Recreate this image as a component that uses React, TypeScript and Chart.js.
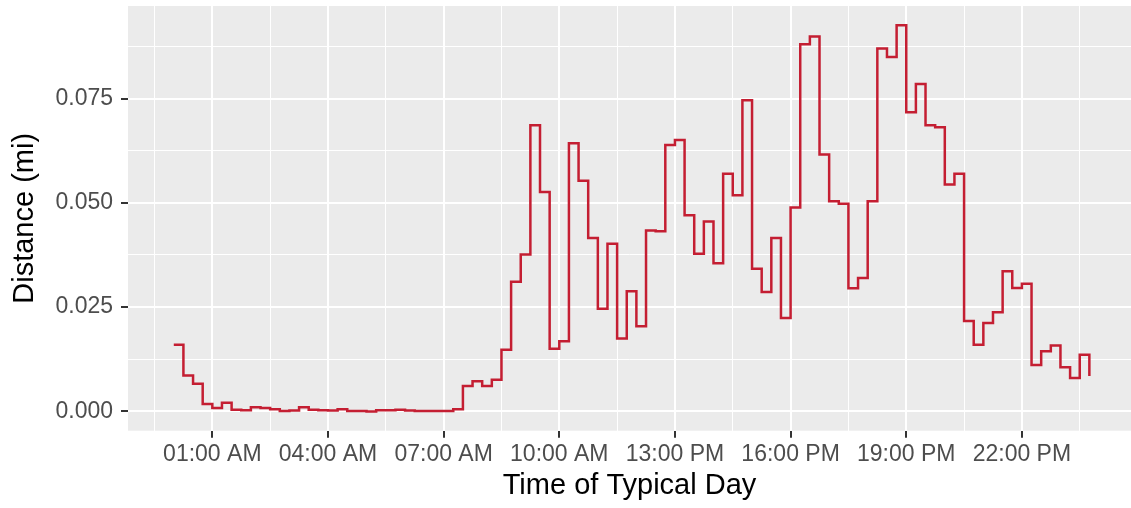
import React, { useEffect, useRef } from "react";
import { Chart, registerables } from "chart.js";

Chart.register(...registerables);

// 15-minute bins of a typical day
const times: string[] = [
  "00:00", "00:15", "00:30", "00:45", "01:00", "01:15", "01:30", "01:45",
  "02:00", "02:15", "02:30", "02:45", "03:00", "03:15", "03:30", "03:45",
  "04:00", "04:15", "04:30", "04:45", "05:00", "05:15", "05:30", "05:45",
  "06:00", "06:15", "06:30", "06:45", "07:00", "07:15", "07:30", "07:45",
  "08:00", "08:15", "08:30", "08:45", "09:00", "09:15", "09:30", "09:45",
  "10:00", "10:15", "10:30", "10:45", "11:00", "11:15", "11:30", "11:45",
  "12:00", "12:15", "12:30", "12:45", "13:00", "13:15", "13:30", "13:45",
  "14:00", "14:15", "14:30", "14:45", "15:00", "15:15", "15:30", "15:45",
  "16:00", "16:15", "16:30", "16:45", "17:00", "17:15", "17:30", "17:45",
  "18:00", "18:15", "18:30", "18:45", "19:00", "19:15", "19:30", "19:45",
  "20:00", "20:15", "20:30", "20:45", "21:00", "21:15", "21:30", "21:45",
  "22:00", "22:15", "22:30", "22:45", "23:00", "23:15", "23:30", "23:45",
];

// Distance (mi)
const distances: number[] = [
  0.0160, 0.0086, 0.0066, 0.0018, 0.0008, 0.0021, 0.0004, 0.0003,
  0.0010, 0.0008, 0.0005, 0.0001, 0.0002, 0.0010, 0.0004, 0.0003,
  0.0002, 0.0005, 0.0001, 0.0001, 0.0000, 0.0003, 0.0003, 0.0004,
  0.0002, 0.0001, 0.0001, 0.0001, 0.0001, 0.0005, 0.0061, 0.0072,
  0.0061, 0.0076, 0.0148, 0.0311, 0.0376, 0.0686, 0.0526, 0.0150,
  0.0168, 0.0643, 0.0553, 0.0416, 0.0246, 0.0402, 0.0175, 0.0288,
  0.0204, 0.0434, 0.0432, 0.0639, 0.0651, 0.0470, 0.0378, 0.0455,
  0.0355, 0.0570, 0.0518, 0.0746, 0.0342, 0.0286, 0.0416, 0.0224,
  0.0489, 0.0880, 0.0899, 0.0616, 0.0504, 0.0498, 0.0295, 0.0320,
  0.0504, 0.0870, 0.0850, 0.0926, 0.0717, 0.0785, 0.0686, 0.0681,
  0.0544, 0.0570, 0.0217, 0.0160, 0.0212, 0.0238, 0.0336, 0.0296,
  0.0306, 0.0111, 0.0144, 0.0158, 0.0106, 0.0080, 0.0136, 0.0085,
];

const xTickHours: number[] = [1, 4, 7, 10, 13, 16, 19, 22];
const xTickLabels: string[] = [
  "01:00 AM", "04:00 AM", "07:00 AM", "10:00 AM",
  "13:00 PM", "16:00 PM", "19:00 PM", "22:00 PM",
];
const xMinorHours: number[] = [-0.5, 2.5, 5.5, 8.5, 11.5, 14.5, 17.5, 20.5, 23.5];

const yTickValues: number[] = [0, 0.025, 0.05, 0.075];
const yTickLabels: string[] = ["0.000", "0.025", "0.050", "0.075"];
const yMinorValues: number[] = [0.0125, 0.0375, 0.0625, 0.0875];

const X_MIN = -1.1875;
const X_MAX = 24.83;
const Y_MIN = -0.00463;
const Y_MAX = 0.0972;

const LINE_COLOR = "#C41E32";
const PANEL_BG = "#EBEBEB";
const FONT = "'Liberation Sans', Arial, Helvetica, sans-serif";

const toHours = (t: string) => {
  const [h, m] = t.split(":").map(Number);
  return h + m / 60;
};

const isMajorX = (v: number) => xTickHours.some((h) => Math.abs(h - v) < 1e-6);
const isMajorY = (v: number) => yTickValues.some((h) => Math.abs(h - v) < 1e-9);

const panelBackground = {
  id: "panelBackground",
  beforeDraw(chart: any) {
    const { ctx, chartArea } = chart;
    ctx.save();
    ctx.fillStyle = PANEL_BG;
    ctx.fillRect(chartArea.left, chartArea.top, chartArea.right - chartArea.left, chartArea.bottom - chartArea.top);
    ctx.restore();
  },
};

export default function App() {
  const canvasRef = useRef<HTMLCanvasElement | null>(null);

  useEffect(() => {
    if (!canvasRef.current) return;
    const points = times.map((t, i) => ({ x: toHours(t), y: distances[i] }));

    const chart = new Chart(canvasRef.current, {
      type: "line",
      data: {
        datasets: [
          {
            data: points,
            borderColor: LINE_COLOR,
            borderWidth: 2.5,
            pointRadius: 0,
            pointHoverRadius: 0,
            fill: false,
            stepped: "before",
            tension: 0,
          },
        ],
      },
      plugins: [panelBackground],
      options: {
        responsive: false,
        animation: false,
        devicePixelRatio: 1,
        layout: { padding: { top: 6, right: 0, left: 0, bottom: 0 } },
        plugins: {
          legend: { display: false },
          tooltip: { enabled: false },
        },
        scales: {
          x: {
            type: "linear",
            min: X_MIN,
            max: X_MAX,
            afterBuildTicks: (scale: any) => {
              const vals = [...xTickHours, ...xMinorHours].sort((a, b) => a - b);
              scale.ticks = vals.map((v) => ({ value: v }));
            },
            afterFit: (scale: any) => {
              scale.height = 77.3;
              scale.paddingLeft = 0;
              scale.paddingRight = 0;
              scale.paddingTop = 0;
              scale.paddingBottom = 0;
            },
            ticks: {
              autoSkip: false,
              maxRotation: 0,
              minRotation: 0,
              padding: 3,
              color: "#4D4D4D",
              font: { family: FONT, size: 23 },
              callback: (v: any) => {
                const idx = xTickHours.findIndex((h) => Math.abs(h - Number(v)) < 1e-6);
                return idx >= 0 ? xTickLabels[idx] : "";
              },
            },
            grid: {
              color: "#FFFFFF",
              lineWidth: (ctx: any) => (isMajorX(ctx.tick.value) ? 2 : 1),
              drawTicks: true,
              tickLength: 7,
              tickWidth: 2,
              tickColor: (ctx: any) => (isMajorX(ctx.tick.value) ? "#333333" : "rgba(0,0,0,0)"),
            },
            border: { display: false },
            title: {
              display: true,
              text: "Time of Typical Day",
              color: "#000000",
              font: { family: FONT, size: 29, lineHeight: 1.2 },
              padding: { top: 0, bottom: 5 },
            },
          },
          y: {
            type: "linear",
            min: Y_MIN,
            max: Y_MAX,
            afterBuildTicks: (scale: any) => {
              const vals = [...yTickValues, ...yMinorValues].sort((a, b) => a - b);
              scale.ticks = vals.map((v) => ({ value: v }));
            },
            afterFit: (scale: any) => {
              scale.width = 128;
              scale.paddingLeft = 0;
              scale.paddingRight = 0;
              scale.paddingTop = 0;
              scale.paddingBottom = 0;
            },
            ticks: {
              padding: 8,
              color: "#4D4D4D",
              font: { family: FONT, size: 23 },
              callback: (v: any) => {
                const idx = yTickValues.findIndex((h) => Math.abs(h - Number(v)) < 1e-9);
                return idx >= 0 ? yTickLabels[idx] : "";
              },
            },
            grid: {
              color: "#FFFFFF",
              lineWidth: (ctx: any) => (isMajorY(ctx.tick.value) ? 2 : 1),
              drawTicks: true,
              tickLength: 7,
              tickWidth: 2,
              tickColor: (ctx: any) => (isMajorY(ctx.tick.value) ? "#333333" : "rgba(0,0,0,0)"),
            },
            border: { display: false },
            title: {
              display: true,
              text: "Distance (mi)",
              color: "#000000",
              font: { family: FONT, size: 29, lineHeight: 1.2 },
              padding: { top: 7.6, bottom: 0 },
            },
          },
        },
      },
    });

    return () => chart.destroy();
  }, []);

  return (
    <div style={{ position: "absolute", left: 0, top: 0, width: 1131, height: 508 }}>
      <canvas ref={canvasRef} width={1131} height={508} style={{ width: 1131, height: 508, display: "block" }} />
    </div>
  );
}
